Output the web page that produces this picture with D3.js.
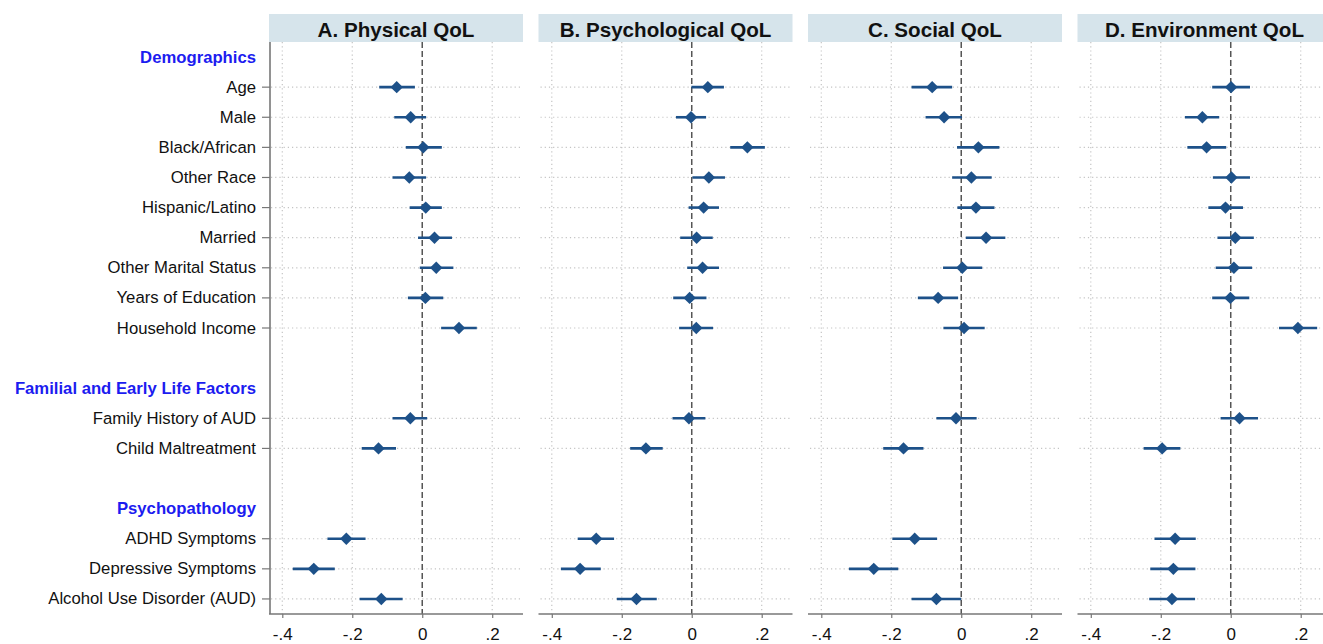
<!DOCTYPE html>
<html><head><meta charset="utf-8">
<script src="https://cdn.jsdelivr.net/npm/d3@7"></script>
<style>body{margin:0;background:#fff}svg{display:block}</style>
</head><body><svg id="c" width="1323" height="644"></svg>
<script>
// ---- data ----
const rows = ["Demographics","Age","Male","Black/African","Other Race","Hispanic/Latino","Married","Other Marital Status","Years of Education","Household Income","","Familial and Early Life Factors","Family History of AUD","Child Maltreatment","","Psychopathology","ADHD Symptoms","Depressive Symptoms","Alcohol Use Disorder (AUD)"];
const sections = ["Demographics","Familial and Early Life Factors","Psychopathology"];
const items = ["Age","Male","Black/African","Other Race","Hispanic/Latino","Married","Other Marital Status","Years of Education","Household Income","Family History of AUD","Child Maltreatment","ADHD Symptoms","Depressive Symptoms","Alcohol Use Disorder (AUD)"];
const panelTitles = ["A. Physical QoL","B. Psychological QoL","C. Social QoL","D. Environment QoL"];
const xTicks = [-0.4,-0.2,0,0.2];
const xTickLabels = ["-.4","-.2","0",".2"];

const physEst = [-0.073,-0.033,0.003,-0.037,0.010,0.035,0.040,0.009,0.105,-0.034,-0.125,-0.217,-0.310,-0.117];
const physLo  = [-0.123,-0.080,-0.047,-0.085,-0.036,-0.012,-0.007,-0.041,0.054,-0.085,-0.173,-0.271,-0.370,-0.179];
const physHi  = [-0.021,0.011,0.056,0.011,0.056,0.085,0.089,0.060,0.156,0.014,-0.075,-0.162,-0.250,-0.056];

const psychEst = [0.046,-0.002,0.159,0.049,0.034,0.014,0.031,-0.006,0.013,-0.008,-0.131,-0.273,-0.319,-0.158];
const psychLo  = [-0.001,-0.045,0.110,0.002,-0.009,-0.033,-0.013,-0.053,-0.036,-0.055,-0.176,-0.326,-0.374,-0.214];
const psychHi  = [0.092,0.041,0.209,0.095,0.078,0.060,0.078,0.042,0.061,0.039,-0.083,-0.222,-0.260,-0.100];

const socEst = [-0.083,-0.049,0.049,0.029,0.042,0.071,0.003,-0.066,0.008,-0.015,-0.165,-0.133,-0.250,-0.071];
const socLo  = [-0.142,-0.102,-0.012,-0.026,-0.011,0.013,-0.052,-0.124,-0.051,-0.071,-0.223,-0.197,-0.321,-0.142];
const socHi  = [-0.026,0.002,0.109,0.087,0.095,0.126,0.060,-0.009,0.067,0.044,-0.108,-0.069,-0.180,0.000];

const envEst = [0.001,-0.081,-0.069,0.002,-0.015,0.013,0.009,-0.001,0.192,0.025,-0.196,-0.159,-0.164,-0.168];
const envLo  = [-0.053,-0.131,-0.124,-0.051,-0.064,-0.038,-0.043,-0.053,0.138,-0.029,-0.249,-0.218,-0.230,-0.233];
const envHi  = [0.055,-0.033,-0.013,0.055,0.035,0.066,0.061,0.053,0.247,0.078,-0.144,-0.100,-0.101,-0.102];

const panels = [
  {title: panelTitles[0], est: physEst, lo: physLo, hi: physHi},
  {title: panelTitles[1], est: psychEst, lo: psychLo, hi: psychHi},
  {title: panelTitles[2], est: socEst, lo: socLo, hi: socHi},
  {title: panelTitles[3], est: envEst, lo: envLo, hi: envHi}
];

// ---- layout ----
const svg = d3.select("#c");
const font = "'Liberation Sans', Arial, sans-serif";
const plotTop = 42, plotBottom = 614, headTop = 14;
const panelW = 254, panelX0 = 269, panelStep = 269.5;
const markColor = "#1d5189";

const y = d3.scaleBand().domain(d3.range(rows.length)).range([plotTop, plotBottom]).padding(0);
const yc = i => y(i) + y.bandwidth()/2;
const x = d3.scaleLinear().domain([-0.438, 0.288]).range([0, panelW]);

// left labels
const labelG = svg.append("g");
rows.forEach((r, i) => {
  if (!r) return;
  const isSec = sections.includes(r);
  labelG.append("text")
    .attr("x", 256).attr("y", yc(i))
    .attr("text-anchor", "end").attr("dominant-baseline", "central")
    .attr("font-family", font).attr("font-size", 16.7)
    .attr("font-weight", isSec ? "bold" : "normal")
    .attr("fill", isSec ? "#1c1cf0" : "#111")
    .text(r);
});

const itemRows = items.map(it => rows.indexOf(it));

panels.forEach((p, k) => {
  const g = svg.append("g").attr("transform", `translate(${panelX0 + k*panelStep},0)`);
  // header
  g.append("rect").attr("x", 0).attr("y", headTop).attr("width", panelW).attr("height", plotTop - headTop)
    .attr("fill", "#d6e4eb");
  g.append("text").attr("x", panelW/2).attr("y", (headTop+plotTop)/2 + 1)
    .attr("text-anchor", "middle").attr("dominant-baseline", "central")
    .attr("font-family", font).attr("font-size", 20.6).attr("font-weight", "bold").attr("fill", "#111")
    .text(p.title);
  // vertical grid
  xTicks.filter(t => t !== 0).forEach(t => {
    g.append("line").attr("x1", x(t)).attr("x2", x(t)).attr("y1", plotTop).attr("y2", plotBottom)
      .attr("stroke", "#c4c4c4").attr("stroke-width", 1.2).attr("stroke-dasharray", "1.2,3");
  });
  // horizontal grid
  itemRows.forEach(i => {
    g.append("line").attr("x1", 2).attr("x2", panelW).attr("y1", yc(i)).attr("y2", yc(i))
      .attr("stroke", "#c4c4c4").attr("stroke-width", 1.2).attr("stroke-dasharray", "1.2,3");
  });
  // zero line
  g.append("line").attr("x1", x(0)).attr("x2", x(0)).attr("y1", plotTop).attr("y2", plotBottom)
    .attr("stroke", "#555").attr("stroke-width", 1.5).attr("stroke-dasharray", "6,3");
  // x axis
  const ax = g.append("g").attr("transform", `translate(0,${plotBottom})`)
    .call(d3.axisBottom(x).tickValues(xTicks).tickSize(4).tickFormat((d,i) => xTickLabels[i]));
  ax.select(".domain").attr("d", `M0,0H${panelW}`).attr("stroke", "#777").attr("stroke-width", 1.6);
  ax.selectAll(".tick line").attr("stroke", "#777").attr("stroke-width", 1.2);
  ax.selectAll(".tick text").attr("font-family", font).attr("font-size", 17).attr("fill", "#111")
    .attr("dy", null).attr("y", 20).attr("dominant-baseline", "central");
  // y axis (first panel only)
  if (k === 0) {
    g.append("line").attr("x1", 1).attr("x2", 1).attr("y1", plotTop).attr("y2", plotBottom)
      .attr("stroke", "#777").attr("stroke-width", 1.6);
    itemRows.forEach(i => {
      g.append("line").attr("x1", -7).attr("x2", 1).attr("y1", yc(i)).attr("y2", yc(i))
        .attr("stroke", "#777").attr("stroke-width", 1.2);
    });
  }
  // CIs and markers
  items.forEach((it, j) => {
    const yy = yc(itemRows[j]);
    g.append("line").attr("x1", x(p.lo[j])).attr("x2", x(p.hi[j])).attr("y1", yy).attr("y2", yy)
      .attr("stroke", markColor).attr("stroke-width", 2.6);
    const cx = x(p.est[j]), r = 6.2;
    g.append("path").attr("d", `M${cx},${yy-r}L${cx+r},${yy}L${cx},${yy+r}L${cx-r},${yy}Z`)
      .attr("fill", markColor);
  });
});
</script>
</body></html>
